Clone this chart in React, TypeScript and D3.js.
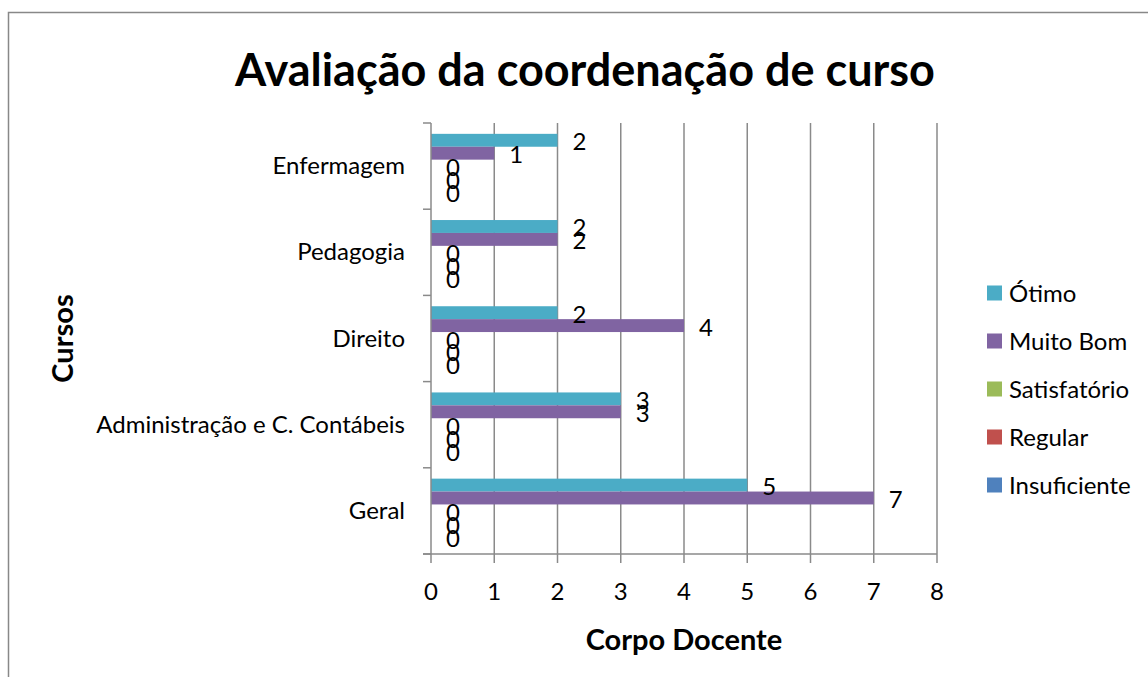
import React from "react";
import * as d3 from "d3";

// categorias de baixo para cima (como no Excel)
const cursos = ["Geral", "Administração e C. Contábeis", "Direito", "Pedagogia", "Enfermagem"];
const otimo = [5, 3, 2, 2, 2];
const muitoBom = [7, 3, 4, 2, 1];
const satisfatorio = [0, 0, 0, 0, 0];
const regular = [0, 0, 0, 0, 0];
const insuficiente = [0, 0, 0, 0, 0];
const xTicks = [0, 1, 2, 3, 4, 5, 6, 7, 8];

const series = [
  { name: "Ótimo", values: otimo, color: "#4BACC6" },
  { name: "Muito Bom", values: muitoBom, color: "#8064A2" },
  { name: "Satisfatório", values: satisfatorio, color: "#9BBB59" },
  { name: "Regular", values: regular, color: "#C0504D" },
  { name: "Insuficiente", values: insuficiente, color: "#4F81BD" },
];

const W = 1148;
const H = 677;
const font = "Lato, 'Open Sans', sans-serif";

export default function App() {
  const left = 431, right = 937, top = 123, bottom = 554;

  const x = d3.scaleLinear().domain([0, 8]).range([left, right]);
  const y = d3.scaleBand().domain(cursos).range([bottom, top]);
  const inner = d3
    .scaleBand()
    .domain(series.map((s) => s.name))
    .range([0, y.bandwidth()])
    .paddingOuter(0.84);

  const bounds = d3.range(cursos.length + 1).map((i) => bottom - i * y.step());

  return (
    <svg width={W} height={H} style={{ position: "absolute", left: 0, top: 0 }} fontFamily={font}>
      <rect x={0} y={0} width={W} height={H} fill="#fff" />
      <rect x={8.5} y={12.5} width={W + 20} height={H + 20} fill="none" stroke="#888" strokeWidth={1.5} />

      <text x={585} y={86} textAnchor="middle" fontSize={45} fontWeight="bold" fill="#000">
        Avaliação da coordenação de curso
      </text>

      {/* grade */}
      {xTicks.slice(1).map((t) => (
        <line key={t} x1={x(t)} x2={x(t)} y1={top} y2={bottom} stroke="#8a8a8a" strokeWidth={1.5} />
      ))}

      {/* barras */}
      {series.map((s) =>
        s.values.map((v, i) => {
          const by = (y(cursos[i]) as number) + (inner(s.name) as number);
          return (
            <rect
              key={s.name + i}
              x={x(0)}
              y={by}
              width={x(v) - x(0)}
              height={inner.bandwidth()}
              fill={s.color}
            />
          );
        })
      )}

      {/* eixos */}
      <line x1={left} x2={left} y1={top} y2={bottom} stroke="#8a8a8a" strokeWidth={1.5} />
      <line x1={left - 8} x2={right} y1={bottom} y2={bottom} stroke="#8a8a8a" strokeWidth={1.5} />
      {xTicks.map((t) => (
        <line key={"xt" + t} x1={x(t)} x2={x(t)} y1={bottom} y2={bottom + 9} stroke="#8a8a8a" strokeWidth={1.5} />
      ))}
      {bounds.map((b, i) => (
        <line key={"yt" + i} x1={left - 8} x2={left} y1={b} y2={b} stroke="#8a8a8a" strokeWidth={1.5} />
      ))}

      {/* rótulos de dados */}
      {series.map((s) =>
        s.values.map((v, i) => {
          const cy = (y(cursos[i]) as number) + (inner(s.name) as number) + inner.bandwidth() / 2;
          return (
            <text key={"l" + s.name + i} x={x(v) + 22} y={cy + 10} textAnchor="middle" fontSize={24} fill="#000">
              {v}
            </text>
          );
        })
      )}

      {/* rótulos das categorias */}
      {cursos.map((c) => (
        <text
          key={c}
          x={405}
          y={(y(c) as number) + y.bandwidth() / 2 + 8}
          textAnchor="end"
          fontSize={24}
          fill="#000"
        >
          {c}
        </text>
      ))}

      {xTicks.map((t) => (
        <text key={"xl" + t} x={x(t)} y={600} textAnchor="middle" fontSize={24} fill="#000">
          {t}
        </text>
      ))}

      <text x={left + (right - left) / 2} y={650} textAnchor="middle" fontSize={29} fontWeight="bold" fill="#000">
        Corpo Docente
      </text>
      <text
        transform={`translate(73,${(top + bottom) / 2}) rotate(-90)`}
        textAnchor="middle"
        fontSize={29}
        fontWeight="bold"
        fill="#000"
      >
        Cursos
      </text>

      {/* legenda */}
      {series.map((s, i) => (
        <g key={"lg" + s.name} transform={`translate(987,${293 + i * 48})`}>
          <rect x={0} y={-7.5} width={15} height={15} fill={s.color} />
          <text x={22} y={8.5} fontSize={24} fill="#000">
            {s.name}
          </text>
        </g>
      ))}
    </svg>
  );
}
